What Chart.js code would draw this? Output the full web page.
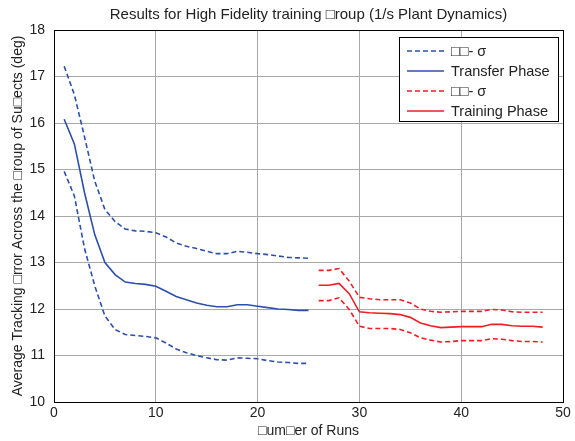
<!DOCTYPE html>
<html>
<head>
<meta charset="utf-8">
<script src="https://cdn.jsdelivr.net/npm/chart.js@4/dist/chart.umd.min.js"></script>
<style>
  body { margin: 0; background: #fff; }
</style>
</head>
<body>
<canvas id="myChart" width="575" height="441"></canvas>
<script>
// Transfer phase (blue), runs 1-25
let transferRuns = [1, 2, 3, 4, 5, 6, 7, 8, 9, 10, 11, 12, 13, 14, 15, 16, 17, 18, 19, 20, 21, 22, 23, 24, 25];
let transferMean = [16.08, 15.55, 14.5, 13.6, 13.0, 12.74, 12.58, 12.55, 12.53, 12.49, 12.38, 12.27, 12.2, 12.13, 12.08, 12.05, 12.05, 12.09, 12.09, 12.06, 12.03, 12.0, 11.99, 11.97, 11.97];
let transferUpper = [17.22, 16.61, 15.7, 14.75, 14.14, 13.88, 13.72, 13.68, 13.67, 13.64, 13.55, 13.42, 13.35, 13.3, 13.24, 13.19, 13.19, 13.24, 13.22, 13.19, 13.17, 13.14, 13.11, 13.1, 13.09];
let transferLower = [14.96, 14.43, 13.3, 12.5, 11.85, 11.56, 11.45, 11.43, 11.41, 11.38, 11.27, 11.14, 11.06, 11.0, 10.95, 10.91, 10.9, 10.95, 10.94, 10.93, 10.89, 10.86, 10.85, 10.83, 10.83];

// Training phase (red), runs 26-48
let trainingRuns = [26, 27, 28, 29, 30, 31, 32, 33, 34, 35, 36, 37, 38, 39, 40, 41, 42, 43, 44, 45, 46, 47, 48];
let trainingMean = [12.51, 12.51, 12.55, 12.33, 11.94, 11.92, 11.91, 11.9, 11.88, 11.82, 11.7, 11.64, 11.6, 11.61, 11.62, 11.62, 11.62, 11.67, 11.67, 11.64, 11.63, 11.63, 11.61];
let trainingUpper = [12.83, 12.83, 12.87, 12.6, 12.25, 12.22, 12.2, 12.2, 12.2, 12.13, 12.0, 11.95, 11.93, 11.94, 11.95, 11.95, 11.95, 11.99, 11.98, 11.94, 11.93, 11.93, 11.93];
let trainingLower = [12.18, 12.18, 12.24, 11.99, 11.63, 11.58, 11.58, 11.58, 11.56, 11.49, 11.38, 11.33, 11.29, 11.3, 11.32, 11.32, 11.32, 11.36, 11.35, 11.32, 11.3, 11.3, 11.29];

let xTicks = [0, 10, 20, 30, 40, 50];
let yTicks = [10, 11, 12, 13, 14, 15, 16, 17, 18];

let chartTitle = "Results for High Fidelity training \u25A1roup (1/s Plant Dynamics)";

const blue = "rgb(44, 80, 170)";
const red = "rgb(237, 30, 36)";
const font = "'Liberation Sans', Arial, sans-serif";

function points(xs, ys) {
  return xs.map((x, i) => ({ x: x, y: ys[i] }));
}

function series(label, xs, ys, color, dashed, inLegend) {
  return {
    label: label,
    data: points(xs, ys),
    borderColor: color,
    backgroundColor: color,
    borderWidth: 1.6,
    borderDash: dashed ? [5, 3] : [],
    pointRadius: 0,
    tension: 0,
    inLegend: inLegend,
  };
}

// title centred over the axes, box round the plot and a legend inside it, like MATLAB does
const boxAndLegend = {
  id: "boxAndLegend",
  afterDraw(chart) {
    const ctx = chart.ctx;
    const a = chart.chartArea;
    ctx.save();

    ctx.fillStyle = "#222";
    ctx.font = "15px " + font;
    ctx.textAlign = "center";
    ctx.textBaseline = "middle";
    ctx.fillText(chartTitle, (a.left + a.right) / 2, 15);
    ctx.textAlign = "left";

    ctx.strokeStyle = "#000";
    ctx.lineWidth = 1;
    ctx.setLineDash([]);
    ctx.strokeRect(Math.round(a.left) + 0.5, Math.round(a.top) + 0.5,
      Math.round(a.right - a.left), Math.round(a.bottom - a.top));

    const w = 159, h = 84;
    const lx = Math.round(a.right) - 5 - w, ly = Math.round(a.top) + 7;
    ctx.fillStyle = "#fff";
    ctx.fillRect(lx, ly, w, h);
    ctx.strokeRect(lx + 0.5, ly + 0.5, w, h);

    const items = chart.data.datasets.filter(d => d.inLegend);
    ctx.font = "14.5px " + font;
    items.forEach((d, i) => {
      const y = ly + 14 + i * 20;
      ctx.strokeStyle = d.borderColor;
      ctx.lineWidth = d.borderWidth;
      ctx.setLineDash(d.borderDash);
      ctx.beginPath();
      ctx.moveTo(lx + 8, y);
      ctx.lineTo(lx + 45, y);
      ctx.stroke();
      ctx.fillStyle = "#222";
      ctx.fillText(d.label, lx + 52, y + 1);
    });
    ctx.restore();
  },
};

let ctx = document.getElementById("myChart").getContext("2d");
let myChart = new Chart(ctx, {
  type: "line",
  data: {
    datasets: [
      series("\u25A1\u25A1- \u03C3", transferRuns, transferUpper, blue, true, true),
      series("Transfer Phase", transferRuns, transferMean, blue, false, true),
      series("\u25A1\u25A1- \u03C3", transferRuns, transferLower, blue, true, false),
      series("\u25A1\u25A1- \u03C3", trainingRuns, trainingUpper, red, true, true),
      series("Training Phase", trainingRuns, trainingMean, red, false, true),
      series("\u25A1\u25A1- \u03C3", trainingRuns, trainingLower, red, true, false),
    ],
  },
  options: {
    responsive: false,
    animation: false,
    layout: { padding: { left: 0, right: 12, top: 30, bottom: 0 } },
    plugins: {
      legend: { display: false },
      tooltip: { enabled: false },
      title: { display: false },
    },
    scales: {
      x: {
        type: "linear",
        min: 0,
        max: 50,
        afterBuildTicks: s => { s.ticks = xTicks.map(v => ({ value: v })); },
        afterFit: s => { s.height = 39; },
        ticks: { color: "#222", font: { family: font, size: 14 }, padding: 3, maxRotation: 0 },
        grid: { color: "#a8a8a8", lineWidth: 1, drawTicks: false },
        border: { display: false },
        title: {
          display: true,
          text: "\u25A1um\u25A1er of Runs",
          color: "#222",
          font: { family: font, size: 14 },
          padding: { top: 0, bottom: 1 },
        },
      },
      y: {
        min: 10,
        max: 18,
        afterBuildTicks: s => { s.ticks = yTicks.map(v => ({ value: v })); },
        afterFit: s => { s.width = 54; },
        ticks: { color: "#222", font: { family: font, size: 14 }, padding: 9 },
        grid: { color: "#a8a8a8", lineWidth: 1, drawTicks: false },
        border: { display: false },
        title: {
          display: true,
          text: "Average Tracking \u25A1rror Across the \u25A1roup of Su\u25A1ects (deg)",
          color: "#222",
          font: { family: font, size: 14 },
          padding: { top: 10, bottom: 0 },
        },
      },
    },
  },
  plugins: [boxAndLegend],
});
</script>
</body>
</html>
